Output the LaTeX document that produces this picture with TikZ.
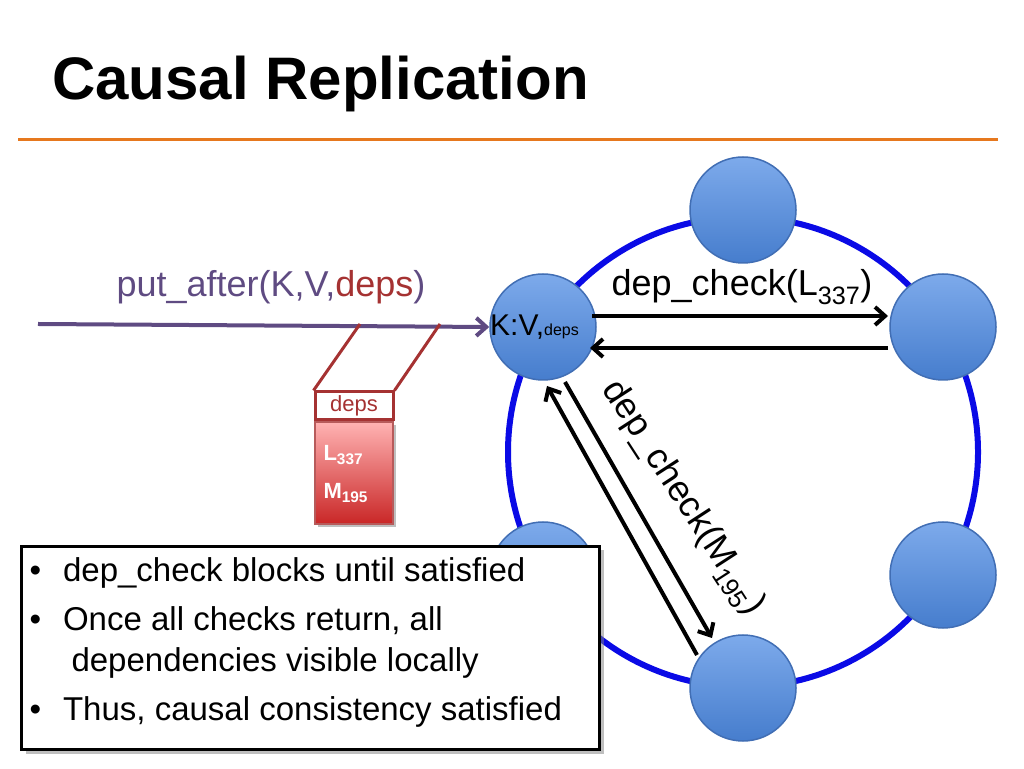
\documentclass[tikz,border=0pt]{standalone}
\usepackage{fontspec}
\setmainfont{Liberation Sans}
\usetikzlibrary{arrows.meta, shadows}

\definecolor{ringblue}{RGB}{10,10,230}
\definecolor{nodetop}{RGB}{125,170,235}
\definecolor{nodebot}{RGB}{70,125,205}
\definecolor{nodeline}{RGB}{65,110,180}
\definecolor{putpurple}{RGB}{95,75,130}
\definecolor{depsred}{RGB}{165,50,50}
\definecolor{rule}{RGB}{230,120,30}

\tikzset{
  site/.style={circle, minimum size=106pt, inner sep=0pt, draw=nodeline, line width=1.5pt,
    top color=nodetop, bottom color=nodebot},
  msg/.style={line width=4pt, -{Straight Barb[length=10pt,width=18pt]}},
  big/.style={font=\fontsize{36}{40}\selectfont}
}

\begin{document}
\begin{tikzpicture}[x=1pt,y=1pt]
  \useasboundingbox (0,0) rectangle (1024,768);
  % title
  \node[anchor=base west, font=\fontsize{60}{64}\selectfont\bfseries, inner sep=0pt] (title) at (52,668) {Causal Replication};
  \draw[rule, line width=3pt] (18,628) -- (998,628);

  % ring of sites
  \draw[ringblue, line width=6pt] (743,316) circle (235);
  \node[site] (top) at (743,558) {};
  \node[site] (ru) at (943,441) {};
  \node[site] (rl) at (943,193) {};
  \node[site] (bot) at (743,80) {};
  \node[site] (ll) at (543,193) {};
  \node[site] (kv) at (543,441) {\hspace*{40pt}};
  \node[anchor=west, font=\fontsize{30}{32}\selectfont, inner sep=0pt] (kvtxt) at (490,441)
    {K:V,{\fontsize{16}{17}\selectfont deps}};

  % put_after
  \coordinate (src) at (38,444);
  \draw[putpurple, line width=4pt, -{Straight Barb[length=10pt,width=18pt]}] (src) -- (kv.west);
  \node[big, text=putpurple] (put) at (271,481) {put\_after(K,V,\textcolor{depsred}{deps})};

  % deps record
  \coordinate (dl) at (360,444);
  \coordinate (dr) at (440,444);
  \node[draw=depsred, line width=3pt, minimum width=78pt, minimum height=28pt, inner sep=0pt,
    text=depsred, font=\fontsize{22}{24}\selectfont] (dhead) at (354,362) {deps};
  \node[draw=depsred!80, line width=1.5pt, minimum width=78pt, minimum height=102pt, anchor=north,
    top color=red!30!white, bottom color=red!75!black!85, drop shadow,
    inner sep=0pt] (dbody) at (dhead.south) {};
  \node[text=white, font=\fontsize{22}{24}\selectfont\bfseries, anchor=west] (dl337) at (320,313) {L\textsubscript{337}};
  \node[text=white, font=\fontsize{22}{24}\selectfont\bfseries, anchor=west] (dm195) at (320,275) {M\textsubscript{195}};
  \draw[depsred, line width=3pt] (dhead.north west) -- (dl);
  \draw[depsred, line width=3pt] (dhead.north east) -- (dr);

  % dependency checks
  \draw[msg] (592,452) -- (888,452);
  \draw[msg] (888,420) -- (590,420);
  \node[big, anchor=south] (lchk) at (742,460) {dep\_check(L\textsubscript{337})};
  \draw[msg] (697,113) -- (547,382);
  \draw[msg] (565,386) -- (712,130);
  \node[big, rotate=-57] (mchk) at (682,270) {dep\_check(M\textsubscript{195})};

  % notes
  \node[draw=black, line width=3pt, fill=white, drop shadow={shadow xshift=4pt, shadow yshift=-4pt},
    minimum width=578pt, minimum height=203pt, anchor=north west] (notes) at (20,223) {};
  \node[anchor=north west, align=left, font=\fontsize{33}{41}\selectfont] (txt) at (26,214)
    {\textbullet\hspace{22pt}dep\_check blocks until satisfied\\[8pt]
     \textbullet\hspace{22pt}Once all checks return, all\\
     \hspace{42pt}dependencies visible locally\\[8pt]
     \textbullet\hspace{22pt}Thus, causal consistency satisfied};
\end{tikzpicture}
\end{document}
